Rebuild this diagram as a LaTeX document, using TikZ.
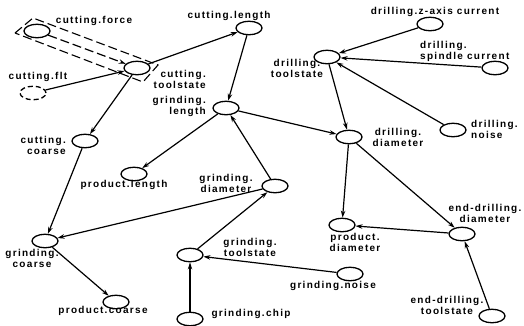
\documentclass[tikz,border=0pt]{standalone}
\usepackage{fontspec}
\setmainfont{Liberation Sans}[LetterSpace=13]
\usetikzlibrary{arrows.meta,shapes.geometric}
\begin{document}
\begin{tikzpicture}[x=1pt,y=-1pt,
  var/.style={draw,ellipse,line width=1.3pt,minimum width=26pt,minimum height=13.5pt,inner sep=0pt},
  lbl/.style={font=\fontsize{10}{11}\selectfont\bfseries,inner sep=0pt,align=center},
  arr/.style={line width=1.2pt,-{Stealth[length=7pt,width=4.5pt]}},
  longdash/.style={dash pattern=on 9pt off 4pt},
  ln/.style={line width=1.1pt}]
\useasboundingbox (0,0) rectangle (524,325);
% variables
\node[var] (cf) at (37,31) {};
\node[var] (cts) at (137,68) {};
\node[var,dash pattern=on 5pt off 3pt] (cflt) at (33,93) {};
\node[var] (clen) at (249,28) {};
\node[var] (glen) at (226,108) {};
\node[var] (ccoarse) at (85,141) {};
\node[var] (plen) at (134,174) {};
\node[var] (ddia) at (349,137) {};
\node[var] (gdia) at (275,186) {};
\node[var] (gcoarse) at (45,241) {};
\node[var] (pcoarse) at (116,302) {};
\node[var] (gts) at (190,255) {};
\node[var] (gchip) at (190,319) {};
\node[var] (gnoise) at (350,274) {};
\node[var] (pdia) at (342,225) {};
\node[var] (edia) at (462,234) {};
\node[var] (edts) at (492,316) {};
\node[var] (dts) at (327,57) {};
\node[var] (dz) at (430,24) {};
\node[var] (dsp) at (495,68) {};
\node[var] (dnoise) at (453,130) {};
% labels
\node[lbl] (lcf) at (94,21) {cutting.force};
\node[lbl,align=right,anchor=east] (lcts) at (206,79) {cutting.\\toolstate};
\node[lbl] (lcflt) at (38,77) {cutting.flt};
\node[lbl] (lclen) at (229,16) {cutting.length};
\node[lbl,align=right,anchor=east] (lglen) at (206,106) {grinding.\\length};
\node[lbl,align=right,anchor=east] (lccoarse) at (66,145) {cutting.\\coarse};
\node[lbl] (lplen) at (124,185) {product.length};
\node[lbl] (lddia) at (398,137) {drilling.\\diameter};
\node[lbl] (lgdia) at (226,183) {grinding.\\diameter};
\node[lbl] (lgcoarse) at (32,258) {grinding.\\coarse};
\node[lbl] (lpcoarse) at (103,311) {product.coarse};
\node[lbl] (lgts) at (250,247) {grinding.\\toolstate};
\node[lbl] (lgchip) at (251,314) {grinding.chip};
\node[lbl] (lgnoise) at (333,286) {grinding.noise};
\node[lbl] (lpdia) at (355,242) {product.\\diameter};
\node[lbl] (ledia) at (485,213) {end-drilling.\\diameter};
\node[lbl] (ledts) at (447,305) {end-drilling.\\toolstate};
\node[lbl] (ldts) at (297,68) {drilling.\\toolstate};
\node[lbl] (ldz) at (435,12) {drilling.z-axis current};
\node[lbl,align=left,anchor=west] (ldsp) at (420,51) {drilling.\\spindle current};
\node[lbl,align=left,anchor=west] (ldnoise) at (471,129) {drilling.\\noise};
% dashed box
\coordinate (b1) at (15,33);
\coordinate (b2) at (33,18);
\coordinate (b3) at (158,65);
\coordinate (b4) at (143,82);
\draw[ln,longdash] (b1) -- (b2) -- (b3) -- (b4) -- cycle;
% connectors
\draw[arr,longdash] (cf) -- (cts);
\draw[arr] (cflt) -- (cts);
\draw[arr] (cts) -- (clen);
\draw[arr] (cts) -- (ccoarse);
\draw[arr] (clen) -- (glen);
\draw[arr] (glen) -- (plen);
\draw[arr] (glen) -- (ddia);
\draw[arr] (gdia) -- (glen);
\draw[arr] (gdia) -- (gcoarse);
\draw[arr] (ccoarse) -- (gcoarse);
\draw[arr] (gcoarse) -- (pcoarse);
\draw[arr] (gts) -- (gdia);
\draw[arr] (gchip) -- (gts);
\draw[arr] (gnoise) -- (gts);
\draw[arr] (dts) -- (ddia);
\draw[arr] (dz) -- (dts);
\draw[arr] (dsp) -- (dts);
\draw[arr] (dnoise) -- (dts);
\draw[arr] (ddia) -- (pdia);
\draw[arr] (ddia) -- (edia);
\draw[arr] (edia) -- (pdia);
\draw[arr] (edts) -- (edia);
\end{tikzpicture}
\end{document}
